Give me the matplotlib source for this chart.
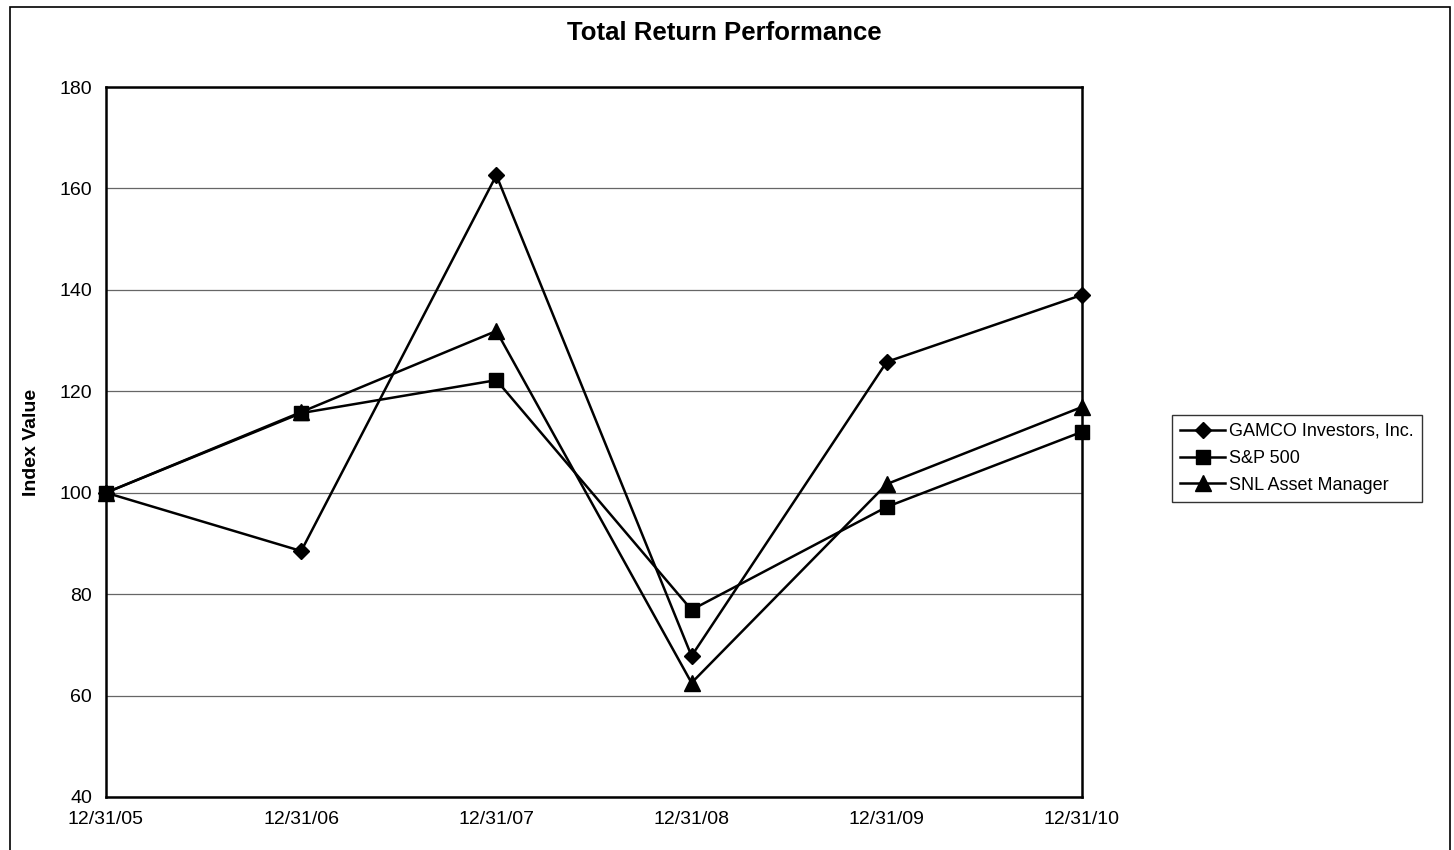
import matplotlib
matplotlib.use("Agg")
import matplotlib.pyplot as plt
from matplotlib.patches import Rectangle

plt.rcParams["font.family"] = ["Liberation Sans", "DejaVu Sans"]

dates = ["12/31/05", "12/31/06", "12/31/07", "12/31/08", "12/31/09", "12/31/10"]
gamco = [100, 88.5, 162.6, 67.8, 125.8, 139.0]
sp500 = [100, 115.7, 122.2, 76.9, 97.2, 112.0]
snl = [100, 115.9, 131.9, 62.5, 101.7, 116.9]

fig = plt.figure(figsize=(14.54, 8.5), dpi=100)
ax = fig.add_axes([0.0729, 0.0624, 0.6712, 0.8352])

x = list(range(len(dates)))
ax.plot(x, gamco, color="black", lw=1.8, marker="D", ms=8, label="GAMCO Investors, Inc.", zorder=3, clip_on=False)
ax.plot(x, sp500, color="black", lw=1.8, marker="s", ms=10, label="S&P 500", zorder=3, clip_on=False)
ax.plot(x, snl, color="black", lw=1.8, marker="^", ms=11, label="SNL Asset Manager", zorder=3, clip_on=False)

ax.set_xlim(0, len(dates) - 1)
ax.set_ylim(40, 180)
ax.set_yticks(range(40, 181, 20))
ax.set_xticks(x)
ax.set_xticklabels(dates)
ax.tick_params(length=0, labelsize=14, pad=10)
ax.yaxis.grid(True, color="#666666", lw=0.9)
ax.set_axisbelow(True)
for s in ax.spines.values():
    s.set_linewidth(1.8)

ax.set_ylabel("Index Value", fontsize=14, fontweight="bold", labelpad=14)
fig.text(0.498, 0.961, "Total Return Performance", fontsize=18.5, fontweight="bold",
         ha="center", va="center")

leg = fig.legend(
    loc="upper left",
    bbox_to_anchor=(0.806, 0.512),
    fontsize=13,
    frameon=True,
    fancybox=False,
    edgecolor="black",
    handlelength=2.5,
    borderpad=0.45,
    labelspacing=0.55,
    handletextpad=0.2,
    borderaxespad=0,
)
leg.get_frame().set_linewidth(1.0)

fig.patches.append(Rectangle((0.007, -0.01), 0.99, 1.002, transform=fig.transFigure,
                             fill=False, edgecolor="black", lw=1.2))

fig.savefig("out.png", dpi=100)
